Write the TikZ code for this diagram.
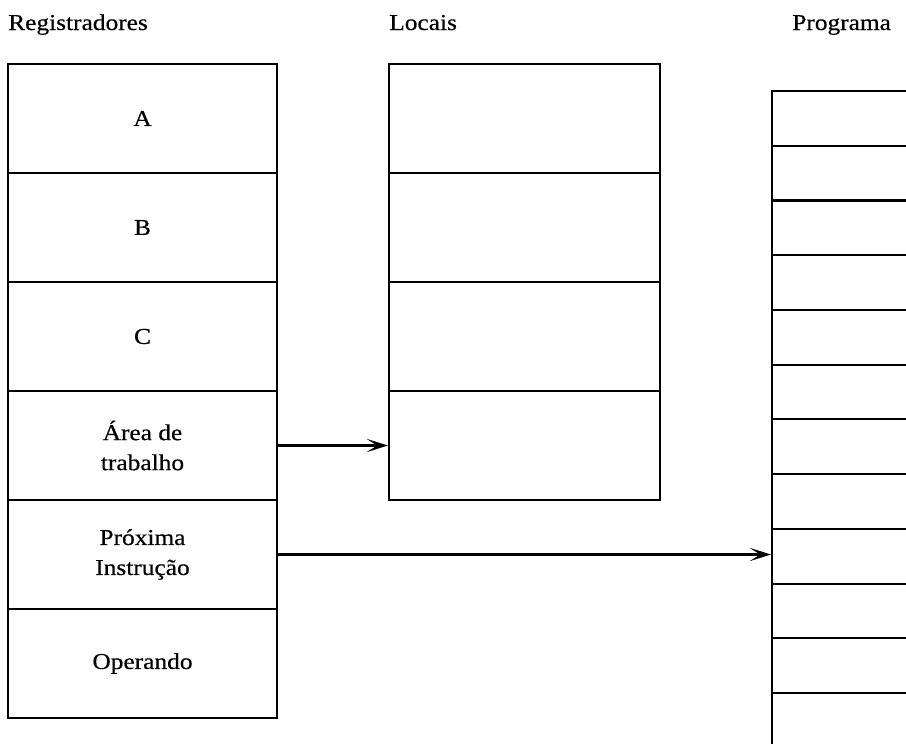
\documentclass[tikz,border=0pt]{standalone}
\usepackage{fontspec}
\setmainfont{Liberation Serif}[FakeStretch=1.12,FakeBold=0.5]
\usetikzlibrary{arrows.meta}
\tikzset{
  cell/.style={draw,line width=1.6pt,rectangle,inner sep=0pt,align=center,
    font=\fontsize{17}{22.5}\selectfont},
  regcell/.style={cell,minimum width=201.75pt,minimum height=81.75pt},
  progcell/.style={cell,minimum width=171pt,minimum height=41.05pt},
  header/.style={anchor=base west,inner sep=0pt,font=\fontsize{17}{20}\selectfont}
}
\begin{document}
\begin{tikzpicture}[x=0.75pt,y=-0.75pt,
  >={Stealth[length=16pt,width=10pt,inset=8pt]}]
\useasboundingbox (0,0) rectangle (906,743);
\clip (0,0) rectangle (906,743);

% headers
\node[header] (hreg)  at (8,30)   {Registradores};
\node[header] (hloc)  at (389,30) {Locais};
\node[header] (hprog) at (792,30) {Programa};

% register column
\node[regcell] (r1) at (142.5,118.5) {A};
\node[regcell] (r2) at (142.5,227.5) {B};
\node[regcell] (r3) at (142.5,336.5) {C};
\node[regcell] (r4) at (142.5,445.5) {Área de\\trabalho};
\node[regcell] (r5) at (142.5,554.5) {Próxima\\Instrução};
\node[regcell] (r6) at (142.5,663.5) {Operando};

% local storage column
\node[regcell,minimum width=203.25pt] (l1) at (524.5,118.5) {};
\node[regcell,minimum width=203.25pt] (l2) at (524.5,227.5) {};
\node[regcell,minimum width=203.25pt] (l3) at (524.5,336.5) {};
\node[regcell,minimum width=203.25pt] (l4) at (524.5,445.5) {};

% program column
\foreach \k in {1,...,12}{
  \node[progcell] (p\k) at (886,{91+27.36+(\k-1)*54.73}) {};
}

% connections
\draw[line width=1.6pt,->] (r4.east) -- (l4.west);
\draw[line width=1.6pt,->] (r5.east) -- (r5.east -| p9.west);
\end{tikzpicture}
\end{document}
